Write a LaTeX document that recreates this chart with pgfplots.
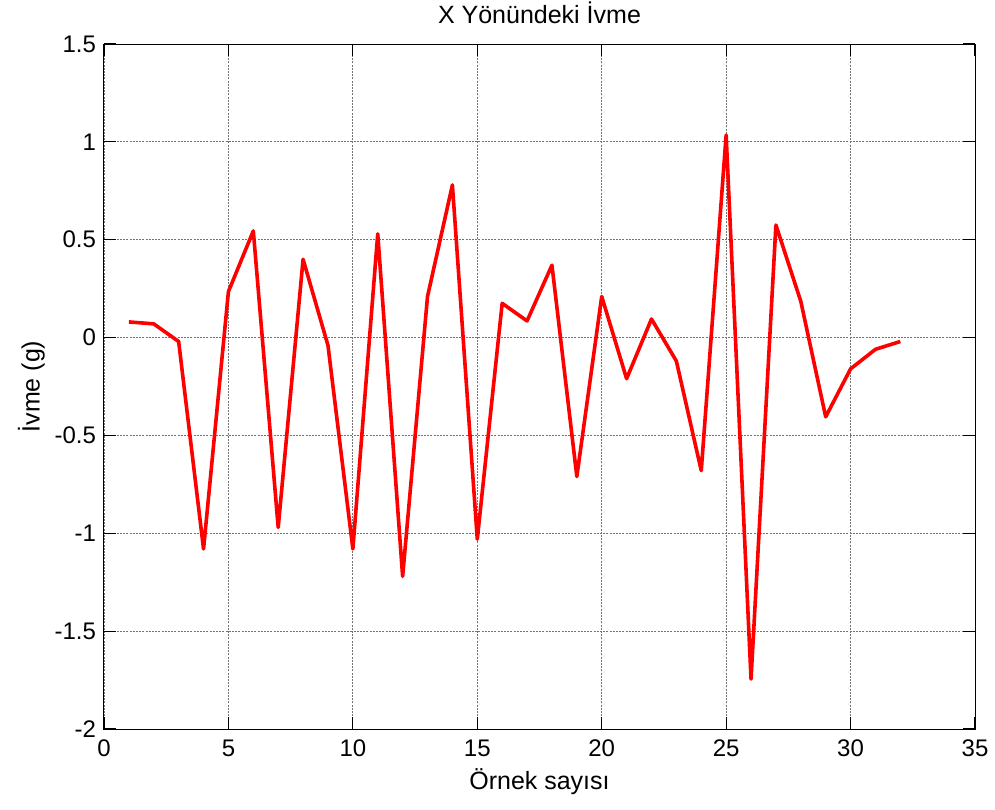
\documentclass[border=0pt]{standalone}
\usepackage{fontspec}
\setmainfont{Liberation Sans}
\usepackage{pgfplots}
\pgfplotsset{compat=1.18}
\begin{document}
\begin{tikzpicture}
\begin{axis}[
  scale only axis,
  width=435.5pt, height=342.5pt,
  xmin=0, xmax=35, ymin=-2, ymax=1.5,
  xtick={0,5,...,35},
  ytick={-2,-1.5,-1,-0.5,0,0.5,1,1.5},
  yticklabels={-2,-1.5,-1,-0.5,0,0.5,1,1.5},
  xticklabels={0,5,10,15,20,25,30,35},
  tick align=inside,
  tick pos=both,
  major tick length=6pt,
  tick style={black, line width=0.6pt},
  axis line style={black, line width=0.5pt},
  grid=major,
  major grid style={black!55, dash pattern=on 1pt off 0.6pt, line width=0.45pt},
  every tick label/.append style={font=\fontsize{12}{14}\selectfont},
  /pgf/number format/assume math mode=true,
  xticklabel style={yshift=-2pt},
  yticklabel style={xshift=-0.5pt},
  title={X Yönündeki İvme},
  title style={font=\fontsize{12.5}{15}\selectfont, yshift=0.5pt},
  xlabel={Örnek sayısı},
  ylabel={İvme (g)},
  label style={font=\fontsize{12.5}{15}\selectfont},
  ylabel style={yshift=-2pt},
  xlabel style={yshift=1pt},
]
\coordinate (bl) at (rel axis cs:0,0);
\coordinate (tr) at (rel axis cs:1,1);
\addplot[red, line width=1.8pt, line join=round] coordinates {
(1,0.08) (2,0.07) (3,-0.02) (4,-1.08) (5,0.235) (6,0.545) (7,-0.97) (8,0.40)
(9,-0.04) (10,-1.08) (11,0.53) (12,-1.22) (13,0.21) (14,0.78) (15,-1.03) (16,0.175)
(17,0.085) (18,0.37) (19,-0.71) (20,0.21) (21,-0.21) (22,0.095) (23,-0.12) (24,-0.68)
(25,1.035) (26,-1.745) (27,0.575) (28,0.185) (29,-0.405) (30,-0.16) (31,-0.06) (32,-0.02)
};
\end{axis}
\pgfresetboundingbox
\path ([shift={(-52pt,-40pt)}]bl) rectangle ([shift={(10pt,22pt)}]tr);
\end{tikzpicture}
\end{document}
